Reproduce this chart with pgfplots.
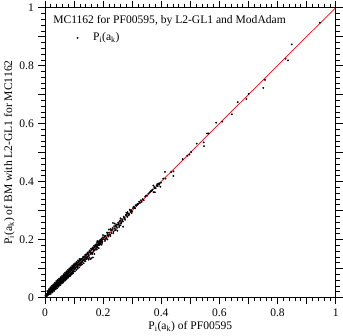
\documentclass[border=0pt]{standalone}
\usepackage{fontspec}
\setmainfont{Liberation Serif}
\usepackage{pgfplots}
\pgfplotsset{compat=1.18}
\begin{document}
\fontsize{11.5}{13.8}\selectfont
\begin{tikzpicture}
\begin{axis}[
  scale only axis, width=289pt, height=288pt,
  xmin=0, xmax=1, ymin=0, ymax=1,
  xtick={0,0.1,0.2,0.3,0.4,0.5,0.6,0.7,0.8,0.9,1},
  xticklabels={0,,0.2,,0.4,,0.6,,0.8,,1},
  ytick={0,0.1,0.2,0.3,0.4,0.5,0.6,0.7,0.8,0.9,1},
  yticklabels={0,,0.2,,0.4,,0.6,,0.8,,1},
  minor tick num=4,
  tick align=outside,
  major tick length=7pt, minor tick length=4pt,
  tick style={black, line width=0.6pt},
  axis line style={black, line width=0.8pt},
  /pgf/number format/assume math mode=true,
  ticklabel style={font=\fontsize{11.5}{13.8}\selectfont},
  label style={font=\fontsize{11.5}{13.8}\selectfont},
  xlabel={P\textsubscript{i}(a\textsubscript{k}) of PF00595},
  ylabel={P\textsubscript{i}(a\textsubscript{k}) of BM with L2-GL1 for MC1162},
  xlabel style={yshift=3pt},
  ylabel style={yshift=-3pt},
  legend style={at={(axis cs:0.098,0.896)}, anchor=west, draw=none, fill=none, font=\fontsize{11.5}{13.8}\selectfont},
  legend cell align=left,
  legend image code/.code={\path[draw=none,fill=none] (0cm,0) -- (0.5cm,0); \fill[black] (0.03cm,0) circle (0.7pt);},
]
\addplot[only marks, mark=*, mark size=0.7pt, black] coordinates {
(0.002,0.006)(0.003,0.004)(0.004,0.009)(0.005,0.007)(0.005,0.011)(0.006,0.005)(0.007,0.012)(0.007,0.009)
(0.008,0.006)(0.009,0.013)(0.009,0.010)(0.010,0.008)(0.011,0.015)(0.011,0.012)(0.012,0.010)(0.013,0.017)
(0.013,0.014)(0.014,0.011)(0.015,0.019)(0.015,0.016)(0.016,0.013)(0.017,0.021)(0.017,0.018)(0.018,0.015)
(0.019,0.024)(0.019,0.020)(0.020,0.017)(0.021,0.026)(0.021,0.022)(0.022,0.019)(0.023,0.028)(0.023,0.025)
(0.024,0.021)(0.025,0.031)(0.025,0.027)(0.026,0.023)(0.027,0.033)(0.027,0.029)(0.028,0.025)(0.029,0.034)
(0.029,0.031)(0.030,0.027)(0.031,0.038)(0.031,0.033)(0.032,0.029)(0.033,0.036)(0.033,0.040)(0.034,0.031)
(0.035,0.042)(0.035,0.037)(0.036,0.033)(0.037,0.044)(0.037,0.039)(0.038,0.035)(0.039,0.046)(0.039,0.041)
(0.040,0.037)(0.041,0.048)(0.041,0.043)(0.042,0.039)(0.043,0.050)(0.043,0.045)(0.044,0.041)(0.045,0.052)
(0.045,0.047)(0.046,0.043)(0.047,0.053)(0.047,0.049)(0.048,0.045)(0.049,0.056)(0.049,0.051)(0.050,0.047)
(0.051,0.058)(0.051,0.053)(0.052,0.048)(0.053,0.060)(0.053,0.055)(0.054,0.050)(0.055,0.062)(0.055,0.057)
(0.056,0.052)(0.057,0.063)(0.057,0.059)(0.058,0.054)(0.059,0.066)(0.059,0.061)(0.060,0.056)(0.061,0.067)
(0.061,0.063)(0.062,0.058)(0.063,0.070)(0.063,0.065)(0.064,0.060)(0.065,0.072)(0.065,0.067)(0.066,0.062)
(0.067,0.073)(0.067,0.069)(0.068,0.063)(0.069,0.076)(0.069,0.071)(0.070,0.065)(0.071,0.078)(0.071,0.073)
(0.072,0.067)(0.073,0.080)(0.073,0.075)(0.074,0.069)(0.075,0.081)(0.075,0.077)(0.076,0.071)(0.077,0.084)
(0.077,0.079)(0.078,0.072)(0.079,0.086)(0.079,0.081)(0.080,0.074)(0.081,0.088)(0.082,0.084)(0.083,0.077)
(0.084,0.091)(0.085,0.087)(0.086,0.079)(0.087,0.093)(0.088,0.090)(0.089,0.082)(0.090,0.097)(0.091,0.093)
(0.092,0.085)(0.093,0.099)(0.094,0.096)(0.095,0.088)(0.096,0.102)(0.097,0.099)(0.098,0.091)(0.099,0.106)
(0.100,0.102)
(0.004,0.003)(0.006,0.010)(0.008,0.011)(0.010,0.014)(0.012,0.016)(0.014,0.018)(0.016,0.021)(0.018,0.022)
(0.020,0.025)(0.022,0.027)(0.024,0.030)(0.026,0.029)(0.028,0.032)(0.030,0.036)(0.032,0.037)(0.034,0.039)
(0.036,0.041)(0.038,0.044)(0.040,0.046)(0.042,0.047)(0.044,0.050)(0.046,0.051)(0.048,0.054)(0.050,0.055)
(0.052,0.057)(0.054,0.061)(0.056,0.059)(0.058,0.064)(0.060,0.066)(0.062,0.068)
(0.030,0.024)(0.045,0.040)(0.052,0.046)(0.060,0.053)(0.066,0.058)(0.072,0.064)(0.078,0.069)(0.084,0.075)
(0.088,0.078)(0.094,0.084)(0.099,0.090)(0.070,0.062)(0.081,0.073)
(0.010,0.020)(0.015,0.026)(0.020,0.031)(0.025,0.036)(0.030,0.041)(0.035,0.047)(0.040,0.052)(0.045,0.057)
(0.050,0.061)(0.055,0.066)(0.060,0.071)(0.065,0.076)(0.070,0.081)(0.075,0.086)(0.080,0.091)(0.085,0.096)
(0.090,0.101)(0.095,0.107)(0.012,0.022)(0.018,0.029)(0.023,0.033)(0.028,0.039)(0.033,0.044)(0.038,0.049)
(0.043,0.054)(0.048,0.059)(0.053,0.064)(0.058,0.069)(0.063,0.074)(0.068,0.078)(0.073,0.084)(0.078,0.088)
(0.083,0.094)(0.088,0.098)(0.093,0.104)(0.098,0.109)
(0.040,0.033)(0.050,0.043)(0.055,0.047)(0.062,0.055)(0.068,0.060)(0.076,0.067)(0.082,0.072)(0.086,0.076)
(0.091,0.081)(0.096,0.085)(0.064,0.055)(0.074,0.065)(0.085,0.074)
(0.008,0.022)(0.014,0.029)(0.019,0.035)(0.024,0.040)(0.029,0.045)(0.034,0.050)(0.039,0.056)(0.044,0.060)
(0.049,0.065)(0.054,0.070)(0.059,0.074)(0.064,0.080)(0.069,0.085)(0.074,0.090)(0.079,0.095)(0.084,0.100)
(0.089,0.104)(0.094,0.110)(0.099,0.114)(0.104,0.118)(0.109,0.123)(0.114,0.128)(0.119,0.133)
(0.020,0.012)(0.026,0.017)(0.032,0.022)(0.037,0.028)(0.042,0.032)(0.047,0.037)(0.053,0.042)(0.058,0.048)
(0.063,0.052)(0.069,0.058)(0.074,0.062)(0.080,0.068)(0.087,0.074)(0.092,0.079)(0.097,0.083)(0.103,0.090)
(0.108,0.095)(0.113,0.099)(0.118,0.104)(0.123,0.110)(0.128,0.114)(0.133,0.118)
(0.101,0.108)(0.102,0.097)(0.104,0.110)(0.105,0.101)(0.106,0.112)(0.107,0.104)(0.109,0.115)(0.110,0.106)
(0.111,0.113)(0.113,0.119)(0.114,0.109)(0.115,0.121)(0.117,0.113)(0.118,0.124)(0.119,0.116)(0.121,0.127)
(0.122,0.118)(0.123,0.130)(0.125,0.121)(0.126,0.132)(0.127,0.124)(0.129,0.134)(0.130,0.127)(0.131,0.137)
(0.133,0.129)(0.134,0.139)(0.135,0.126)(0.137,0.142)(0.138,0.133)(0.140,0.145)(0.141,0.137)(0.143,0.148)
(0.145,0.150)(0.146,0.140)(0.148,0.153)(0.150,0.146)(0.152,0.157)(0.153,0.137)(0.155,0.160)(0.157,0.132)
(0.158,0.154)(0.160,0.165)(0.161,0.151)(0.163,0.167)(0.165,0.138)(0.166,0.170)(0.168,0.163)(0.170,0.174)
(0.172,0.166)(0.173,0.178)(0.175,0.180)(0.176,0.170)(0.178,0.183)(0.180,0.176)(0.182,0.181)(0.184,0.188)
(0.186,0.180)(0.188,0.188)(0.190,0.194)(0.192,0.186)(0.194,0.196)(0.196,0.199)(0.198,0.193)(0.200,0.201)
(0.142,0.132)(0.125,0.115)
(0.103,0.114)(0.108,0.118)(0.112,0.105)(0.116,0.125)(0.120,0.112)(0.124,0.133)(0.128,0.121)(0.132,0.141)
(0.136,0.131)(0.139,0.148)(0.144,0.138)(0.147,0.155)(0.151,0.143)(0.154,0.162)(0.156,0.149)(0.159,0.168)
(0.162,0.155)(0.164,0.172)(0.167,0.158)(0.169,0.178)(0.171,0.163)(0.174,0.182)(0.177,0.175)(0.179,0.188)
(0.181,0.172)(0.183,0.192)(0.185,0.184)(0.187,0.195)(0.189,0.182)(0.191,0.199)(0.193,0.190)(0.195,0.203)
(0.197,0.188)(0.199,0.207)(0.160,0.135)(0.150,0.130)(0.170,0.150)
(0.139,0.125)(0.148,0.134)(0.163,0.150)(0.178,0.165)(0.185,0.170)(0.195,0.182)(0.207,0.195)(0.215,0.200)
(0.225,0.212)(0.235,0.222)(0.244,0.233)(0.255,0.243)(0.180,0.194)(0.200,0.215)(0.220,0.234)(0.240,0.255)
(0.260,0.273)(0.280,0.292)
(0.203,0.207)(0.206,0.199)(0.209,0.212)(0.212,0.205)(0.215,0.219)(0.218,0.210)(0.221,0.224)(0.224,0.217)
(0.228,0.231)(0.231,0.233)(0.234,0.257)(0.236,0.227)(0.240,0.238)(0.243,0.247)(0.246,0.245)(0.249,0.230)
(0.250,0.252)(0.254,0.253)(0.257,0.262)(0.260,0.249)(0.263,0.259)(0.266,0.264)(0.269,0.244)(0.272,0.275)
(0.276,0.268)(0.281,0.285)(0.284,0.294)(0.288,0.283)(0.292,0.303)(0.295,0.296)(0.298,0.291)
(0.205,0.212)(0.210,0.203)(0.214,0.224)(0.217,0.214)(0.220,0.215)(0.226,0.236)(0.229,0.222)(0.233,0.240)
(0.238,0.246)(0.241,0.232)(0.245,0.252)(0.248,0.240)(0.252,0.258)(0.256,0.248)(0.259,0.266)(0.262,0.255)
(0.265,0.270)(0.268,0.262)(0.271,0.279)(0.275,0.271)(0.278,0.284)(0.283,0.278)(0.286,0.290)(0.290,0.287)
(0.294,0.299)(0.297,0.301)(0.300,0.296)
(0.303,0.308)(0.308,0.311)(0.315,0.317)(0.318,0.322)(0.321,0.323)(0.327,0.326)(0.333,0.330)(0.345,0.348)
(0.352,0.351)(0.360,0.362)(0.367,0.369)(0.367,0.367)(0.374,0.363)(0.373,0.386)(0.378,0.377)(0.381,0.377)
(0.384,0.386)(0.388,0.384)(0.392,0.392)(0.393,0.389)(0.397,0.382)(0.399,0.396)(0.378,0.363)(0.407,0.410)
(0.413,0.433)(0.415,0.410)(0.434,0.433)(0.442,0.435)(0.442,0.419)
(0.305,0.313)(0.310,0.307)(0.312,0.318)(0.317,0.320)(0.324,0.330)(0.330,0.335)(0.336,0.339)(0.340,0.336)
(0.348,0.352)(0.356,0.358)(0.363,0.366)(0.370,0.372)(0.376,0.381)(0.386,0.391)(0.390,0.393)(0.395,0.394)
(0.474,0.477)(0.490,0.489)(0.497,0.493)(0.503,0.502)(0.522,0.531)(0.546,0.535)(0.547,0.522)(0.558,0.566)
(0.563,0.566)(0.589,0.603)(0.610,0.607)(0.643,0.632)(0.663,0.674)(0.693,0.685)(0.701,0.702)(0.751,0.723)
(0.757,0.751)(0.828,0.824)(0.836,0.818)(0.849,0.873)(0.946,0.948)
};
\addlegendentry{P\textsubscript{i}(a\textsubscript{k})}
\addplot[red, line width=0.7pt, forget plot] coordinates {(0,0)(1,1)};
\node[anchor=west, inner sep=0pt] at (axis cs:0.028,0.955) {MC1162 for PF00595, by L2-GL1 and ModAdam};
\end{axis}
\end{tikzpicture}
\end{document}
